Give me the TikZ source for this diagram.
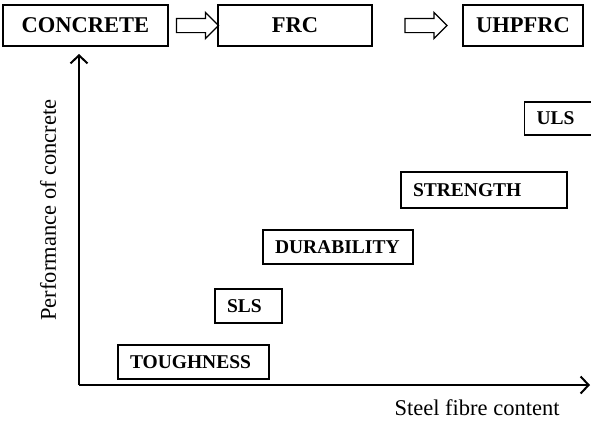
\documentclass[tikz,border=0pt]{standalone}
\usepackage{fontspec}
\setmainfont{Liberation Serif}
\usetikzlibrary{arrows.meta,shapes.arrows}

\tikzset{
  material/.style = {draw, line width=1.2pt, minimum height=41pt, inner sep=0pt,
                     font=\fontsize{22.5}{27}\selectfont\bfseries},
  stage/.style    = {draw, line width=1.2pt, minimum height=34pt, inner xsep=12pt, inner ysep=0pt,
                     align=left, font=\fontsize{19.5}{23}\selectfont\bfseries},
  hollow/.style   = {draw, line width=1.2pt, single arrow, single arrow head extend=6pt,
                     single arrow head indent=0pt, inner xsep=0pt, inner ysep=6.5pt, minimum height=42pt},
  axis/.style     = {line width=2pt, -{Straight Barb[length=8pt, width=17pt, line width=2pt]}},
  axislabel/.style = {font=\fontsize{22.5}{27}\selectfont}
}

\begin{document}
\begin{tikzpicture}[x=1pt, y=-1pt]
	\useasboundingbox (0,0) rectangle (591,424);
	% materials along the top
	\node [material, minimum width=165pt] (concrete) at (85.5,25.5) {CONCRETE};
	\node [material, minimum width=154pt] (frc) at (295,25.5) {FRC};
	\node [material, minimum width=120pt] (uhpfrc) at (523,25.5) {UHPFRC};
	\node [hollow] (arrA) at (194,25.5) {};
	\node [hollow] (arrB) at (422.5,25.5) {};
	% axes
	\coordinate (origin) at (79,385);
	\coordinate (ytop) at (79,54);
	\coordinate (xend) at (590,385);
	\draw [axis] (origin) -- (ytop);
	\draw [axis] (origin) -- (xend);
	\node [axislabel, rotate=90] (ylabel) at (48,210) {Performance of concrete};
	\node [axislabel] (xlabel) at (477,408) {Steel fibre content};
	% properties
	\node [stage, text width=127pt, minimum height=34pt] (tough) at (193.5,362) {TOUGHNESS};
	\node [stage, text width=43pt] (sls) at (248.5,306) {SLS};
	\node [stage, text width=126pt] (dura) at (338,247) {DURABILITY};
	\node [stage, text width=142pt, minimum height=36pt] (strength) at (484,190) {STRENGTH};
	\node [stage, text width=45pt, minimum height=33pt] (uls) at (559,118.5) {ULS};
\end{tikzpicture}
\end{document}
